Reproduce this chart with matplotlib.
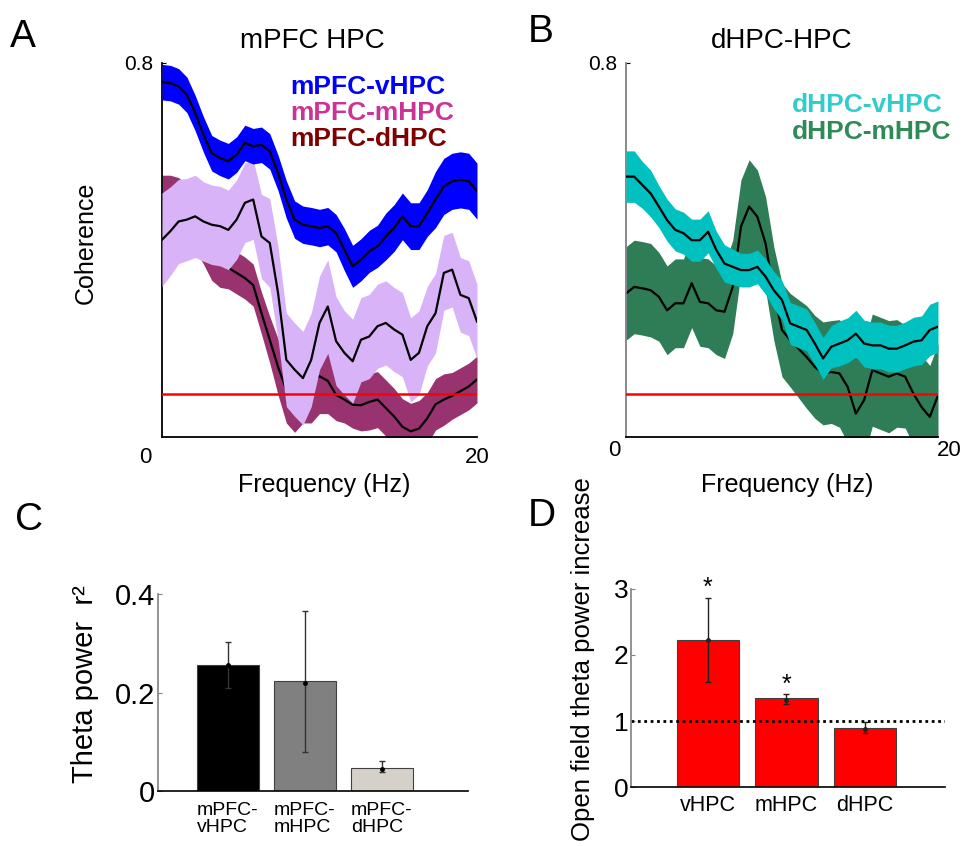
import numpy as np
import matplotlib
matplotlib.use("Agg")
import matplotlib.pyplot as plt
from matplotlib.transforms import blended_transform_factory

plt.rcParams['font.family'] = ['Liberation Sans', 'DejaVu Sans']

W, H = 964, 846

# ---------------- data: coherence spectra (mean and half-width of band) ----------------
freq = np.arange(1.0, 20.5, 0.5)

A_vhpc_mean = [0.759, 0.757, 0.750, 0.732, 0.693, 0.647, 0.607, 0.597, 0.590, 0.604,
               0.629, 0.622, 0.625, 0.611, 0.565, 0.508, 0.465, 0.454, 0.451, 0.447,
               0.451, 0.436, 0.401, 0.365, 0.379, 0.397, 0.408, 0.429, 0.447, 0.472,
               0.451, 0.451, 0.479, 0.508, 0.536, 0.547, 0.550, 0.547, 0.526]
A_vhpc_sem = [0.038, 0.038, 0.038, 0.038, 0.038, 0.038, 0.038, 0.038, 0.038, 0.038,
              0.038, 0.038, 0.038, 0.038, 0.038, 0.040, 0.040, 0.040, 0.040, 0.040,
              0.040, 0.040, 0.045, 0.045, 0.045, 0.045, 0.045, 0.050, 0.050, 0.050,
              0.050, 0.050, 0.050, 0.060, 0.060, 0.060, 0.060, 0.060, 0.060]

A_mhpc_mean = [0.422, 0.440, 0.461, 0.465, 0.472, 0.461, 0.454, 0.451, 0.443, 0.465,
               0.501, 0.508, 0.429, 0.415, 0.308, 0.165, 0.144, 0.126, 0.165, 0.244,
               0.279, 0.205, 0.180, 0.162, 0.208, 0.215, 0.237, 0.244, 0.230, 0.219,
               0.165, 0.180, 0.237, 0.265, 0.351, 0.358, 0.304, 0.297, 0.247]
A_mhpc_sem = [0.100, 0.095, 0.090, 0.088, 0.088, 0.085, 0.085, 0.085, 0.085, 0.085,
              0.085, 0.085, 0.090, 0.095, 0.100, 0.100, 0.100, 0.100, 0.100, 0.100,
              0.100, 0.095, 0.090, 0.090, 0.090, 0.090, 0.090, 0.090, 0.090, 0.090,
              0.090, 0.090, 0.085, 0.085, 0.080, 0.080, 0.080, 0.080, 0.080]

A_dhpc_mean = [0.510, 0.510, 0.505, 0.490, 0.450, 0.420, 0.385, 0.370, 0.362, 0.351,
               0.340, 0.325, 0.265, 0.208, 0.150, 0.100, 0.090, 0.120, 0.120, 0.130,
               0.120, 0.090, 0.080, 0.069, 0.068, 0.075, 0.080, 0.062, 0.044, 0.022,
               0.012, 0.018, 0.040, 0.070, 0.080, 0.088, 0.098, 0.108, 0.123]
A_dhpc_sem = [0.050, 0.050, 0.050, 0.050, 0.050, 0.050, 0.050, 0.050, 0.045, 0.045,
              0.045, 0.045, 0.045, 0.050, 0.060, 0.070, 0.080, 0.090, 0.090, 0.080,
              0.070, 0.055, 0.050, 0.050, 0.055, 0.060, 0.060, 0.060, 0.060, 0.060,
              0.060, 0.060, 0.055, 0.055, 0.055, 0.050, 0.050, 0.050, 0.050]

B_vhpc_mean = [0.557, 0.557, 0.539, 0.521, 0.493, 0.464, 0.443, 0.436, 0.421, 0.421,
               0.439, 0.400, 0.371, 0.364, 0.357, 0.357, 0.364, 0.343, 0.314, 0.293,
               0.243, 0.236, 0.229, 0.200, 0.168, 0.193, 0.200, 0.207, 0.221, 0.200,
               0.196, 0.196, 0.189, 0.189, 0.196, 0.204, 0.207, 0.229, 0.236]
B_vhpc_sem = [0.055, 0.055, 0.050, 0.050, 0.045, 0.045, 0.045, 0.045, 0.045, 0.045,
              0.045, 0.040, 0.040, 0.038, 0.036, 0.036, 0.036, 0.038, 0.040, 0.042,
              0.045, 0.045, 0.045, 0.045, 0.045, 0.045, 0.048, 0.048, 0.050, 0.050,
              0.050, 0.050, 0.050, 0.050, 0.050, 0.052, 0.052, 0.055, 0.055]

B_mhpc_mean = [0.307, 0.321, 0.318, 0.314, 0.300, 0.271, 0.286, 0.286, 0.329, 0.289,
               0.286, 0.271, 0.268, 0.321, 0.450, 0.493, 0.471, 0.414, 0.307, 0.229,
               0.207, 0.189, 0.171, 0.150, 0.136, 0.139, 0.136, 0.107, 0.050, 0.079,
               0.143, 0.136, 0.129, 0.136, 0.129, 0.093, 0.064, 0.043, 0.089]
B_mhpc_sem = [0.100, 0.100, 0.100, 0.100, 0.095, 0.095, 0.095, 0.095, 0.095, 0.095,
              0.095, 0.095, 0.100, 0.100, 0.100, 0.100, 0.100, 0.100, 0.100, 0.100,
              0.100, 0.105, 0.110, 0.110, 0.110, 0.110, 0.115, 0.120, 0.120, 0.120,
              0.120, 0.120, 0.120, 0.115, 0.110, 0.110, 0.110, 0.110, 0.110]

sig_level = 0.093

# ---------------- data: bar panels ----------------
C_labels = ["mPFC-\nvHPC", "mPFC-\nmHPC", "mPFC-\ndHPC"]
C_values = [0.256, 0.223, 0.047]
C_center = [0.256, 0.220, 0.045]
C_low = [0.209, 0.079, 0.038]
C_high = [0.303, 0.366, 0.060]
C_colors = ['#000000', '#808080', '#d5d1c9']

D_labels = ["vHPC", "mHPC", "dHPC"]
D_values = [2.226, 1.346, 0.890]
D_center = [2.22, 1.32, 0.88]
D_low = [1.59, 1.26, 0.815]
D_high = [2.87, 1.41, 0.99]
D_star = [True, True, False]


def box(l, t, r, b):
    return [l / W, 1 - b / H, (r - l) / W, (b - t) / H]


def band(ax, mean, sem, color, z):
    mean = np.array(mean)
    sem = np.array(sem)
    ax.fill_between(freq, mean - sem, mean + sem, color=color, lw=0, zorder=z)
    ax.plot(freq, mean, color='black', lw=1.6, zorder=z + 0.5)


def spectrum_axes(ax, left_color):
    ax.set_xlim(1, 20)
    ax.set_ylim(0, 0.8)
    for s in ['top', 'right']:
        ax.spines[s].set_visible(False)
    ax.spines['left'].set_color(left_color)
    ax.spines['left'].set_linewidth(1.3)
    ax.spines['bottom'].set_linewidth(1.3)
    ax.set_xticks([])
    ax.set_yticks([0.8])
    ax.set_yticklabels(['0.8'])
    ax.tick_params(axis='y', direction='in', length=3, labelsize=15, pad=6, color='black')
    ax.axhline(sig_level, color='#ff0000', lw=1.8, zorder=10)


fig = plt.figure(figsize=(W / 100, H / 100), dpi=100)

# ---------------- A ----------------
axA = fig.add_axes(box(162, 63, 477, 437))
band(axA, A_dhpc_mean, A_dhpc_sem, '#993370', 2)
band(axA, A_mhpc_mean, A_mhpc_sem, '#d9b3f7', 3)
band(axA, A_vhpc_mean, A_vhpc_sem, '#0000ff', 4)
spectrum_axes(axA, 'black')
trA = blended_transform_factory(axA.transData, axA.transAxes)
axA.text(0, -0.056, "0", transform=trA, ha='center', va='center', fontsize=16, clip_on=False)
axA.text(20, -0.056, "20", transform=trA, ha='center', va='center', fontsize=16, clip_on=False)
axA.set_xlabel("Frequency (Hz)", fontsize=18)
axA.xaxis.set_label_coords(0.514, -0.095)
axA.set_ylabel("Coherence", fontsize=18)
axA.yaxis.set_label_coords(-0.205, 0.52)
axA.text(0.476, 1.040, "mPFC HPC", transform=axA.transAxes, ha='center', va='baseline', fontsize=20)
for txt, col, yy in [("mPFC-vHPC", '#0000ff', 0.936),
                     ("mPFC-mHPC", '#cc3399', 0.866),
                     ("mPFC-dHPC", '#800000', 0.797)]:
    axA.text(0.406, yy, txt, color=col, transform=axA.transAxes, ha='left', va='center',
             fontsize=19, fontweight='bold', zorder=20)

# ---------------- B ----------------
axB = fig.add_axes(box(626, 63, 938, 437))
band(axB, B_mhpc_mean, B_mhpc_sem, '#2e7d56', 2)
band(axB, B_vhpc_mean, B_vhpc_sem, '#00c0c0', 3)
spectrum_axes(axB, '#808080')
trB = blended_transform_factory(axB.transData, axB.transAxes)
axB.text(0.3, -0.037, "0", transform=trB, ha='center', va='center', fontsize=16, clip_on=False)
axB.text(20.7, -0.037, "20", transform=trB, ha='center', va='center', fontsize=16, clip_on=False)
axB.set_xlabel("Frequency (Hz)", fontsize=18)
axB.xaxis.set_label_coords(0.518, -0.095)
axB.text(0.5, 1.040, "dHPC-HPC", transform=axB.transAxes, ha='center', va='baseline', fontsize=20)
for txt, col, yy in [("dHPC-vHPC", '#33cccc', 0.888),
                     ("dHPC-mHPC", '#2e8b57', 0.816)]:
    axB.text(0.532, yy, txt, color=col, transform=axB.transAxes, ha='left', va='center',
             fontsize=19, fontweight='bold', zorder=20)

# ---------------- C ----------------
axC = fig.add_axes(box(158, 594, 468, 791))
xc = np.arange(1, len(C_values) + 1)
axC.bar(xc, C_values, width=0.8, color=C_colors, edgecolor='#404040', lw=0.8)
yerr_c = [np.array(C_center) - np.array(C_low), np.array(C_high) - np.array(C_center)]
axC.errorbar(xc, C_center, yerr=yerr_c, fmt='o', ms=2.5, color='black', ecolor='#333333',
             elinewidth=1, capsize=2)
axC.set_xlim(0.09, 4.12)
axC.set_ylim(0, 0.4)
axC.set_yticks([0, 0.2, 0.4])
axC.set_yticklabels(['0', '0.2', '0.4'])
axC.set_xticks(xc)
axC.set_xticklabels(C_labels, fontsize=14, linespacing=1.0, multialignment='left')
axC.tick_params(axis='y', direction='in', length=3, labelsize=21, pad=2, color='#808080')
axC.tick_params(axis='x', length=0, pad=8)
for s in ['top', 'right']:
    axC.spines[s].set_visible(False)
axC.spines['left'].set_color('#808080')
axC.spines['left'].set_linewidth(1.2)
axC.spines['bottom'].set_linewidth(1.2)
axC.set_ylabel("Theta power  r²", fontsize=21)
axC.yaxis.set_label_coords(-0.19, 0.545)

# ---------------- D ----------------
axD = fig.add_axes(box(631, 589, 945, 787))
xd = np.arange(1, len(D_values) + 1)
axD.bar(xd, D_values, width=0.8, color='#ff0000', edgecolor='#404040', lw=0.8)
yerr_d = [np.array(D_center) - np.array(D_low), np.array(D_high) - np.array(D_center)]
axD.errorbar(xd, D_center, yerr=yerr_d, fmt='o', ms=2.5, color='#222222', ecolor='#222222',
             elinewidth=1, capsize=2)
axD.axhline(1, color='black', lw=2, linestyle=(0, (1, 1.3)))
for x, top, star in zip(xd, D_high, D_star):
    if star:
        axD.text(x, top - 0.04, "*", ha='center', va='bottom', fontsize=18)
axD.set_xlim(0.02, 4.02)
axD.set_ylim(0, 3)
axD.set_yticks([0, 1, 2, 3])
axD.set_xticks(xd)
axD.set_xticklabels(D_labels, fontsize=15.5)
axD.tick_params(axis='y', direction='in', length=3, labelsize=19, pad=2, color='#808080')
axD.tick_params(axis='x', length=0, pad=6)
for s in ['top', 'right']:
    axD.spines[s].set_visible(False)
axD.spines['left'].set_color('#808080')
axD.spines['left'].set_linewidth(1.2)
axD.spines['bottom'].set_linewidth(1.2)
axD.set_ylabel("Open field theta power increase", fontsize=18.5)
axD.yaxis.set_label_coords(-0.115, 0.645)

# ---------------- panel letters ----------------
for letter, x, y in [("A", 10, 47), ("B", 528, 42), ("C", 15, 530), ("D", 528, 526)]:
    fig.text(x / W, 1 - y / H, letter, fontsize=28, ha='left', va='baseline')

fig.savefig("out.png", dpi=100)
